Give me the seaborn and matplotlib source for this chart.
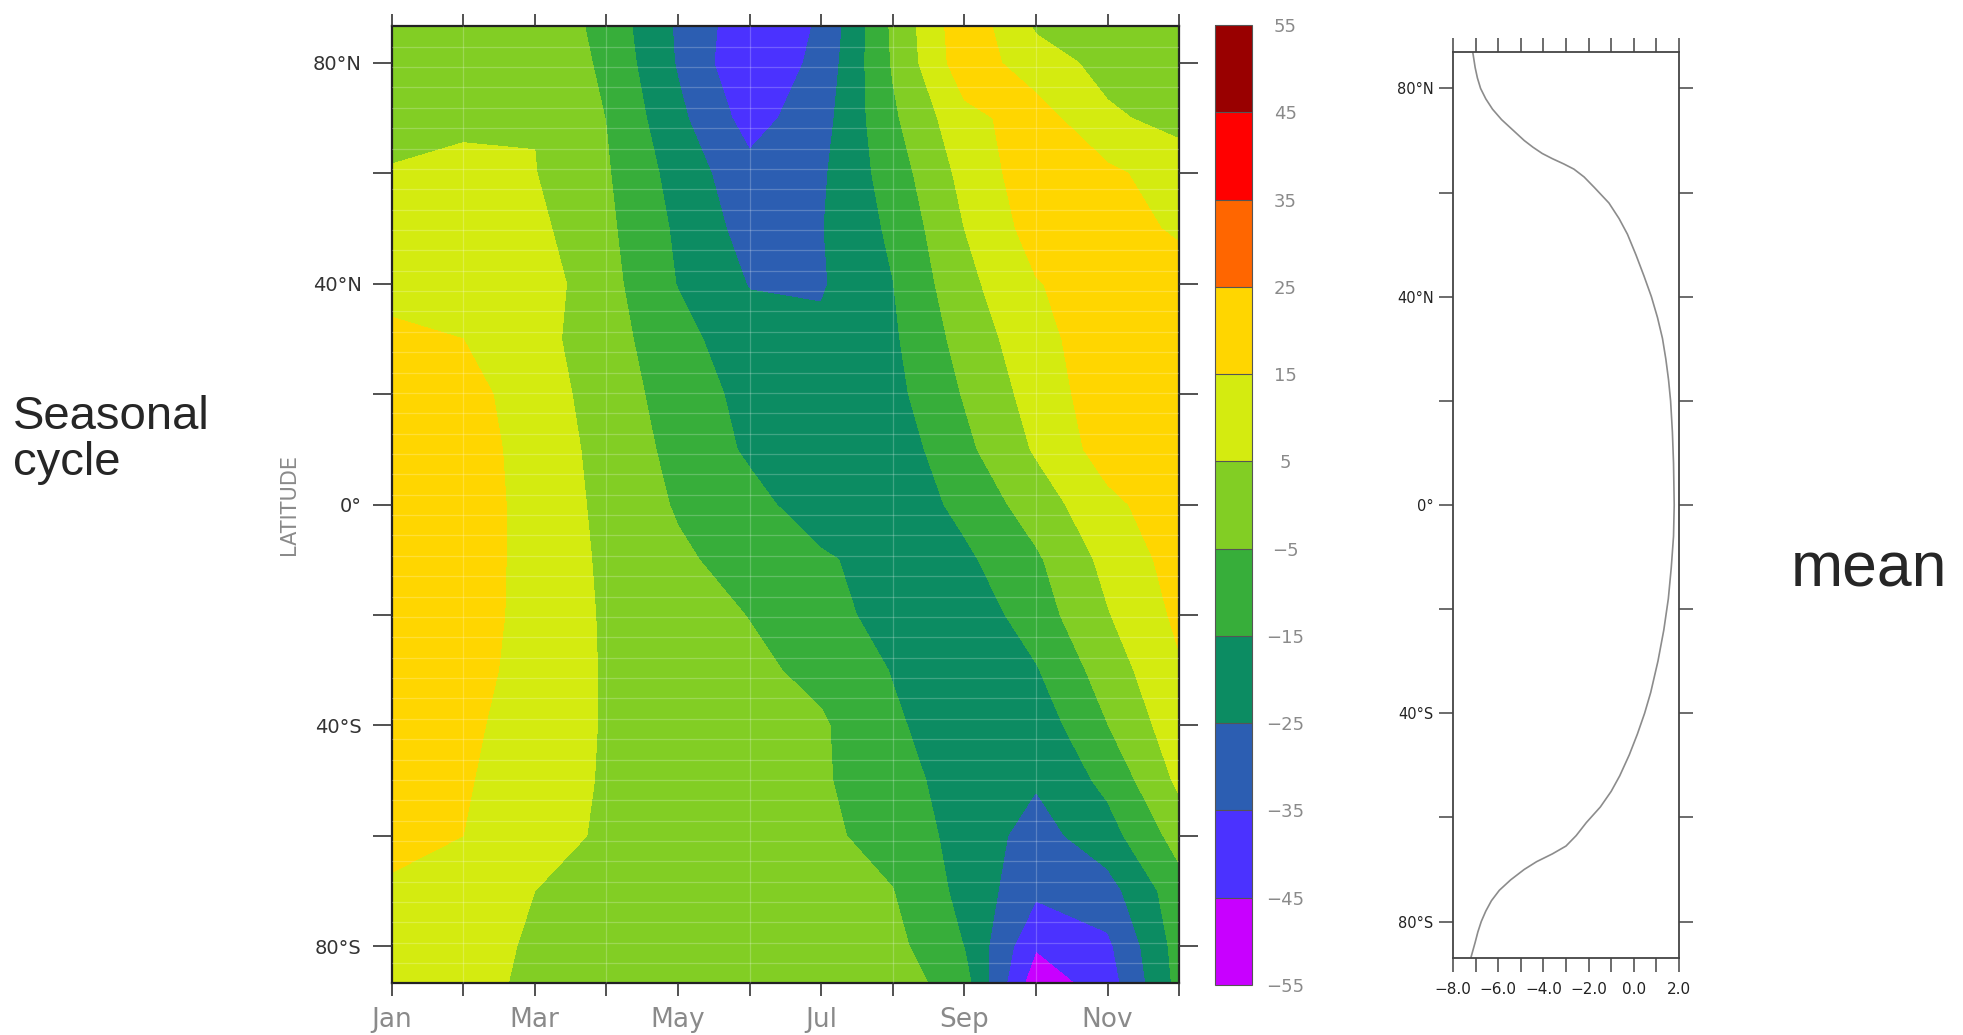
import numpy as np
import matplotlib
matplotlib.use("Agg")
import matplotlib.pyplot as plt
from matplotlib.colors import ListedColormap, BoundaryNorm
from matplotlib.ticker import FixedLocator, FuncFormatter
import seaborn as sns

# ---------------------------------------------------------------------------
# 資料：月份 × 緯度 的季節循環，以及緯向平均剖面
# ---------------------------------------------------------------------------
months = list(range(12))
month_label_pos = [0, 2, 4, 6, 8, 10]
month_labels = ["Jan", "Mar", "May", "Jul", "Sep", "Nov"]

lat_nodes = [87, 80, 70, 60, 50, 40, 30, 20, 10, 0,
             -10, -20, -30, -40, -50, -60, -70, -80, -87]

# 每列對應 lat_nodes 的一個緯度，欄為 Jan..Dec
cycle_n87 = [0, 1, 3.5, -8.8, -26.4, -42, -34, -3.3, 22, 3.5, 1, 0]
cycle_n80 = [1, 2, 4, -7.2, -25.9, -44, -32, -4.1, 21, 9.5, 2, 1]
cycle_n70 = [3.5, 4.2, 4.6, -5.2, -22.7, -39, -29, -6.7, 12, 19.5, 6.5, 2]
cycle_n60 = [5.3, 6, 5.3, -4.1, -18.9, -32, -26.5, -10.2, 8, 21, 17, 10]
cycle_n50 = [9, 9.5, 7.5, -3, -16.7, -29, -25.5, -13.1, 5, 19, 18, 14]
cycle_n40 = [13, 12.5, 10.4, -1.8, -15.4, -25.5, -26, -15.2, 2.1, 14.4, 20, 18]
cycle_n30 = [16.3, 15, 8.5, -0.9, -11.8, -21, -23, -16.5, -1.3, 11.6, 21, 20]
cycle_n20 = [19, 18.5, 10.1, 0.3, -9.6, -18, -21, -18, -4.3, 9, 21, 21]
cycle_n10 = [21, 19.5, 11.3, 1.5, -7.9, -16.5, -22, -21, -7.4, 6.1, 19.5, 22]
cycle_eq = [22, 19.5, 12, 2.3, -6, -12, -20, -22, -12.2, -0.3, 12.5, 21]
cycle_s10 = [22, 19.5, 12, 3.2, -3.4, -8.8, -13.7, -19, -17, -6.5, 7.8, 19]
cycle_s20 = [21.5, 19.3, 11.9, 3.8, -0.7, -5.3, -11.1, -19, -21.9, -9.8, 4.4, 17]
cycle_s30 = [21, 18.5, 11.4, 4.1, 0.7, -2.8, -7.7, -15.5, -21, -15.8, -0.2, 14]
cycle_s40 = [20, 17, 10.6, 4.2, 1.3, -1.6, -3.8, -13.5, -21, -21, -5.2, 11]
cycle_s50 = [19, 16, 9.5, 4.1, 1.4, -1.3, -3.9, -10.7, -20, -24, -12.5, 7]
cycle_s60 = [17, 15, 8.2, 3.8, 1.4, -1.0, -3.3, -8.1, -18.9, -29, -19, -1]
cycle_s70 = [14, 12, 5, 3, 1, -1, -3, -4.8, -17.9, -33, -29, -9]
cycle_s80 = [12, 8, 4, 3, 2, 0.5, -1, -2, -15.2, -44, -37, -11]
cycle_s87 = [10, 7.5, 3.5, 2.5, 2, 1, 0.5, 1, -11, -52, -40, -12]

levels = [-55, -45, -35, -25, -15, -5, 5, 15, 25, 35, 45, 55]
level_colors = ["#c800ff", "#4b32ff", "#2c5eb2", "#0c8c62", "#37ae3a",
                "#82ce24", "#d4eb10", "#ffd600", "#ff6600", "#ff0000", "#990000"]

mean_lat = [86.8, 84, 82, 80, 78, 76, 74, 72, 70, 68.7, 67.5, 66.5, 65.5,
            64.5, 63, 61, 58, 55, 52, 48, 44, 40, 36, 32, 28, 24, 20, 14, 8,
            0, -6, -12, -18, -24, -30, -36, -40, -44, -48, -52, -55, -58, -61,
            -63.5, -65.5, -67, -68.5, -70, -72, -74, -76, -78, -80, -82, -84,
            -86.8]
mean_val = [-7.12, -7.02, -6.92, -6.78, -6.55, -6.25, -5.85, -5.35, -4.85,
            -4.46, -4.05, -3.6, -3.1, -2.65, -2.2, -1.75, -1.1, -0.65, -0.28,
            0.1, 0.45, 0.78, 1.05, 1.27, 1.42, 1.54, 1.63, 1.71, 1.76, 1.79,
            1.76, 1.66, 1.53, 1.33, 1.07, 0.75, 0.48, 0.16, -0.2, -0.62, -1.0,
            -1.48, -2.1, -2.55, -3.0, -3.6, -4.3, -4.85, -5.45, -5.95, -6.3,
            -6.55, -6.75, -6.9, -7.02, -7.2]


def lat_label(v, _pos=None):
    if abs(v) < 1e-6:
        return "0°"
    if int(round(abs(v))) % 40 != 0:
        return ""
    return f"{abs(v):.0f}°N" if v > 0 else f"{abs(v):.0f}°S"


sns.set_style("ticks")
plt.rcParams["font.family"] = ["DejaVu Sans"]
plt.rcParams["axes.unicode_minus"] = True

fig = plt.figure(figsize=(19.63, 10.35), dpi=100)

# ---------------------------------------------------------------------------
# 左：季節循環等值填色圖
# ---------------------------------------------------------------------------
cycle = np.array([cycle_n87, cycle_n80, cycle_n70, cycle_n60, cycle_n50,
                  cycle_n40, cycle_n30, cycle_n20, cycle_n10, cycle_eq,
                  cycle_s10, cycle_s20, cycle_s30, cycle_s40, cycle_s50,
                  cycle_s60, cycle_s70, cycle_s80, cycle_s87])
cmap = ListedColormap(level_colors)
norm = BoundaryNorm(levels, cmap.N)

ax = fig.add_axes([0.1995, 0.0502, 0.4012, 0.9247])
cs = ax.contourf(months, lat_nodes, cycle, levels=levels, cmap=cmap, norm=norm)
ax.set_xlim(0, 11)
ax.set_ylim(-86.7, 86.7)

ax.xaxis.set_major_locator(FixedLocator(month_label_pos))
ax.set_xticklabels(month_labels)
ax.xaxis.set_minor_locator(FixedLocator([1, 3, 5, 7, 9, 11]))
ax.yaxis.set_major_locator(FixedLocator([-80, -60, -40, -20, 0, 20, 40, 60, 80]))
ax.yaxis.set_major_formatter(FuncFormatter(lat_label))
ax.yaxis.set_minor_locator(FixedLocator(np.arange(-83.1, 84, 3.69)))

ax.tick_params(axis="x", which="both", top=True, bottom=True, direction="out",
               length=9, width=1.2, color="#333", labelsize=19,
               labelcolor="#8a8a8a", pad=8)
ax.tick_params(axis="y", which="major", left=True, right=True, direction="out",
               length=13.5, width=1.2, color="#333", labelsize=14,
               labelcolor="#333", pad=8)
ax.tick_params(axis="y", which="minor", length=0)
ax.grid(False)
ax.grid(which="minor", color="white", alpha=0.22, lw=0.9)
ax.set_axisbelow(False)
for sp in ax.spines.values():
    sp.set_visible(True)
    sp.set_color("#222")
    sp.set_linewidth(1.6)
ax.set_ylabel("LATITUDE", fontsize=15, color="#8a8a8a")
ax.yaxis.set_label_coords(-0.117, 0.5)

# 色條
cax = fig.add_axes([0.619, 0.0483, 0.0189, 0.9275])
cb = fig.colorbar(cs, cax=cax, ticks=levels, drawedges=True)
cb.outline.set_edgecolor("#555")
cb.outline.set_linewidth(0.8)
cb.dividers.set_color("#555")
cb.dividers.set_linewidth(0.8)
cb.ax.tick_params(length=0, labelsize=13, labelcolor="#8a8a8a", pad=24)
for lab in cb.ax.get_yticklabels():
    lab.set_horizontalalignment("center")

# ---------------------------------------------------------------------------
# 右：緯向平均剖面
# ---------------------------------------------------------------------------
ax2 = fig.add_axes([0.7402, 0.0744, 0.1151, 0.8754])
sns.lineplot(x=mean_val, y=mean_lat, orient="y", color="#8c8c8c", lw=1.2,
             ax=ax2)
ax2.set_xlim(-8, 2)
ax2.set_ylim(-87, 87)
ax2.xaxis.set_major_locator(FixedLocator([-8, -6, -4, -2, 0, 2]))
ax2.xaxis.set_major_formatter(FuncFormatter(lambda v, p: f"{v:.1f}".replace("-", "\u2212")))
ax2.xaxis.set_minor_locator(FixedLocator([-7, -5, -3, -1, 1]))
ax2.yaxis.set_major_locator(FixedLocator([-80, -60, -40, -20, 0, 20, 40, 60, 80]))
ax2.yaxis.set_major_formatter(FuncFormatter(lat_label))
ax2.tick_params(axis="x", which="both", top=True, bottom=True, direction="out",
                length=10, width=1.1, color="#444", labelsize=11,
                labelcolor="#222", pad=7)
ax2.tick_params(axis="y", which="major", left=True, right=True,
                direction="out", length=10, width=1.1, color="#444",
                labelsize=10.5, labelcolor="#222", pad=4)
for sp in ax2.spines.values():
    sp.set_visible(True)
    sp.set_color("#444")
    sp.set_linewidth(1.3)
ax2.set_xlabel("")
ax2.set_ylabel("")

# 面板文字
fig.text(0.0066, 0.575, "Seasonal\ncycle", fontsize=34, family="Liberation Sans",
         ha="left", va="center", linespacing=1.05)
fig.text(0.9122, 0.449, "mean", fontsize=45, family="Liberation Sans",
         ha="left", va="center")

fig.savefig("out.png", dpi=100)
plt.close(fig)
